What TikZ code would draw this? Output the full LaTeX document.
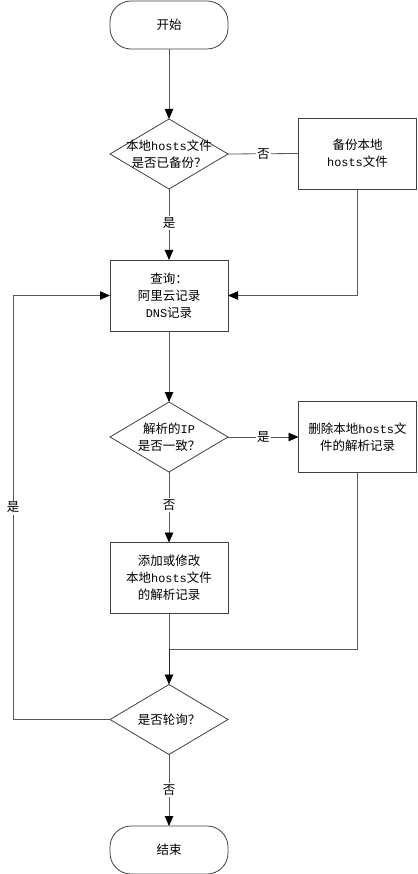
\documentclass[tikz,border=0pt]{standalone}
\usepackage{fontspec}
\setmainfont{Noto Sans CJK SC}
\newfontfamily\lat[Scale=0.95]{Liberation Mono}
\usetikzlibrary{shapes.geometric,arrows.meta}
\begin{document}
\begin{tikzpicture}[x=1pt,y=-1pt,
  every node/.style={font=\fontsize{12.5}{17}\selectfont, align=center, text=black},
  term/.style={draw=black!75, line width=0.8pt, rounded corners=21pt, minimum width=118pt, minimum height=48pt, inner sep=0pt, outer sep=0pt},
  proc/.style={draw=black!75, line width=0.8pt, minimum width=118pt, minimum height=71pt, inner sep=0pt, outer sep=0pt},
  dia/.style={draw=black!75, line width=0.8pt, diamond, minimum width=118pt, minimum height=70pt, inner sep=0pt, outer sep=0pt},
  conn/.style={draw=black!65, line width=0.8pt},
  arr/.style={conn, -{Triangle[length=10pt,width=8.5pt,color=black]}},
  lbl/.style={fill=white, inner sep=1.5pt}
]
\useasboundingbox (0,0) rectangle (417,874);
\node[term] (start) at (169,25) {开始};
\node[dia] (d1) at (169,154) {};
\node (d1t) at (d1.center) {本地{\lat hosts}文件\\是否已备份？};
\node[proc, minimum height=71pt] (bak) at (357.5,153.5) {备份本地\\{\lat hosts}文件};
\node[proc] (query) at (169,295.5) {查询：\\阿里云记录\\{\lat DNS}记录};
\node[dia] (d2) at (169,437) {};
\node (d2t) at (d2.center) {解析的{\lat IP}\\是否一致？};
\node[proc] (del) at (357.5,437) {删除本地{\lat hosts}文\\件的解析记录};
\node[proc] (add) at (169,578) {添加或修改\\本地{\lat hosts}文件\\的解析记录};
\node[dia] (d3) at (169,719.5) {};
\node (d3t) at (d3.center) {是否轮询？};
\node[term] (end) at (169,850) {结束};
\coordinate (m) at (169,649);
\coordinate (lp) at (13,0);

\draw[arr] (start) -- (d1);
\draw[conn] (d1.east) -- node[lbl] {否} (bak.west);
\draw[arr] (d1) -- node[lbl, pos=0.48] {是} (query);
\draw[arr] (bak.south) |- (query.east);
\draw[arr] (query) -- (d2);
\draw[arr] (d2.east) -- node[lbl] {是} (del.west);
\draw[arr] (d2) -- node[lbl, pos=0.47] {否} (add);
\draw[conn] (del.south) |- (m);
\draw[conn] (add.south) -- (m);
\draw[arr, draw=black!85] (m) -- (d3.north);
\draw[arr] (d3.west) -- (d3.west -| lp) -- node[lbl] {是} (query.west -| lp) -- (query.west);
\draw[arr] (d3) -- node[lbl] {否} (end);
\end{tikzpicture}
\end{document}
